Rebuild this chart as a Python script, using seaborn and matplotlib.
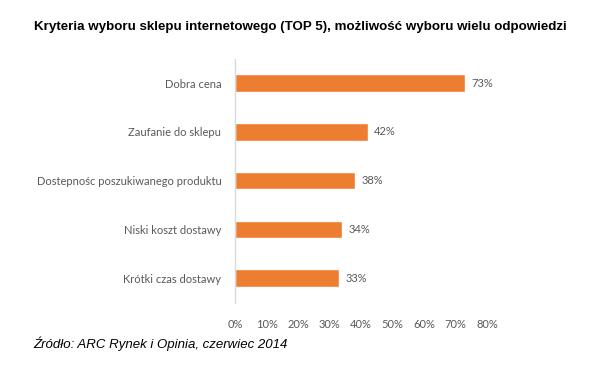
import matplotlib
matplotlib.use('Agg')
import matplotlib.pyplot as plt
import seaborn as sns
import pandas as pd

# Data
categories = ['Dobra cena', 'Zaufanie do sklepu', 'Dostepnośc poszukiwanego produktu',
              'Niski koszt dostawy', 'Krótki czas dostawy']
values = [0.73, 0.42, 0.38, 0.34, 0.33]
x_ticks = [0, 0.1, 0.2, 0.3, 0.4, 0.5, 0.6, 0.7, 0.8]

title = 'Kryteria wyboru sklepu internetowego (TOP 5), możliwość wyboru wielu odpowiedzi'
source = 'Źródło: ARC Rynek i Opinia, czerwiec 2014'

df = pd.DataFrame({'kryterium': categories, 'udzial': values})

sns.set_style('white')
plt.rcParams['font.family'] = ['Lato', 'DejaVu Sans']

fig = plt.figure(figsize=(6, 3.76), dpi=100)
ax = fig.add_axes([0.392, 0.195, 0.42, 0.649])

sns.barplot(data=df, x='udzial', y='kryterium', color='#ED7D31', saturation=1,
            width=0.36, ax=ax)

for p, v in zip(ax.patches, values):
    ax.text(p.get_width() + 0.02, p.get_y() + p.get_height() / 2, f'{v:.0%}',
            va='center', ha='left', fontsize=8, color='#595959')

ax.set_xlim(0, 0.8)
ax.set_xticks(x_ticks)
ax.set_xticklabels([f'{t:.0%}' for t in x_ticks])
ax.set_xlabel('')
ax.set_ylabel('')
ax.tick_params(axis='both', length=0, labelsize=8, colors='#595959')
ax.tick_params(axis='y', pad=10)
ax.tick_params(axis='x', pad=12)
for s in ['top', 'right', 'bottom']:
    ax.spines[s].set_visible(False)
ax.spines['left'].set_color('#D9D9D9')
ax.spines['left'].set_linewidth(1)

fig.text(0.5, 0.928, title, ha='center', va='center', fontsize=9.65,
         fontweight='bold', family='Liberation Sans', color='black')
fig.text(0.055, 0.085, source, ha='left', va='center', fontsize=9.5,
         style='italic', family='Liberation Sans', color='black')

fig.savefig('out.png', dpi=100)
